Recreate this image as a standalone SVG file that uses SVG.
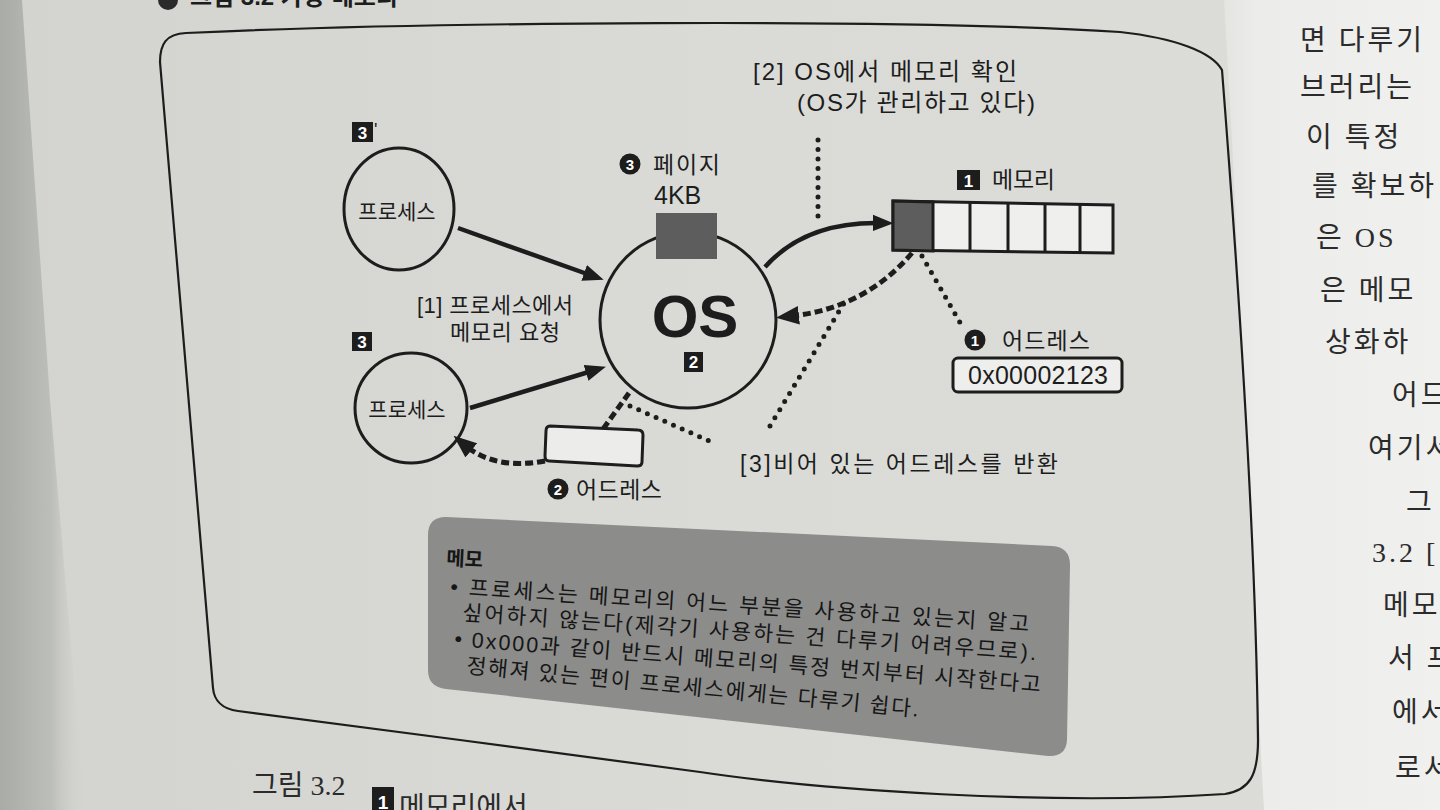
<svg xmlns="http://www.w3.org/2000/svg" width="1440" height="810" viewBox="0 0 1440 810">
<defs>
<style>
.ln{fill:none;stroke:#1d1d1d;stroke-width:3}
.arr{fill:none;stroke:#1d1d1d;stroke-width:4.5;marker-end:url(#ah)}
.dash{fill:none;stroke:#1d1d1d;stroke-width:5;stroke-dasharray:8 4;marker-end:url(#ah)}
.dashn{fill:none;stroke:#1d1d1d;stroke-width:5;stroke-dasharray:8 4}
.dot{fill:none;stroke:#1d1d1d;stroke-width:5;stroke-linecap:round;stroke-dasharray:0 9.5}
.t{font-family:"Liberation Sans","Noto Sans CJK KR",sans-serif;fill:#1d1d1d}
.wt{font-family:"Liberation Sans",sans-serif;fill:#ffffff;font-weight:bold;text-anchor:middle}
.mt{font-family:"Liberation Sans","Noto Sans CJK KR",sans-serif;fill:#161616;font-size:21.5px}
.pg{font-family:"Liberation Serif","Noto Sans CJK KR",serif;fill:#2b2b2b}
.rp{font-size:28px;letter-spacing:3px}
</style>
<marker id="ah" viewBox="0 0 10 8" refX="3" refY="4" markerWidth="4.6" markerHeight="3.8" orient="auto" markerUnits="strokeWidth">
<path d="M0,0 L10,4 L0,8 z" fill="#1d1d1d"/>
</marker>
<linearGradient id="bg" x1="0" y1="0" x2="1" y2="0">
<stop offset="0" stop-color="#d3d4d0"/>
<stop offset="0.5" stop-color="#dadbd7"/>
<stop offset="1" stop-color="#dcdcd9"/>
</linearGradient>
<linearGradient id="sh" x1="0" y1="0" x2="1" y2="0">
<stop offset="0" stop-color="#a9aba7"/>
<stop offset="0.6" stop-color="#bcbeba"/>
<stop offset="1" stop-color="#d3d4d0" stop-opacity="0"/>
</linearGradient>
<linearGradient id="rp" x1="0" y1="0" x2="1" y2="0">
<stop offset="0" stop-color="#e4e4e1"/>
<stop offset="0.15" stop-color="#ececea"/>
<stop offset="1" stop-color="#f0f0ee"/>
</linearGradient>
</defs>

<!-- page background -->
<rect width="1440" height="810" fill="url(#bg)"/>
<polygon points="0,0 22,0 50,400 85,810 0,810" fill="url(#sh)"/>
<polygon points="1224,0 1440,0 1440,810 1264,810 1258,700 1232,140" fill="url(#rp)"/>

<!-- top header (cut off) -->
<circle cx="168" cy="0" r="10" fill="#2a2a2a"/>
<text x="190" y="5" class="t" style="font-size:24px;font-weight:bold">그림 3.2 가상 메모리</text>

<!-- frame -->
<path class="ln" style="stroke-width:2.2" d="M160,62 C160,44 166,34 186,33 C420,22 900,18 1120,32 C1175,38 1212,52 1222,70 C1240,300 1256,560 1258,740 C1258,775 1250,790 1225,794 C1050,806 820,790 700,772 L460,740 L238,711 C222,709 214,700 213,688 Z"/>

<!-- connectors -->
<g id="connectors">
<path class="arr" d="M458,228 L590,275"/>
<path class="arr" d="M470,408 L592,371"/>
<path class="arr" d="M765,267 Q805,222 879,223"/>
<path class="dash" d="M912,253 Q865,308 792,316"/>
<path class="dash" d="M545,461 Q495,470 466,446"/>
<path class="dashn" d="M629,393 L603,429"/>
<path class="dot" d="M818,140 L818,224"/>
<path class="dot" d="M922,256 L962,326"/>
<path class="dot" d="M770,426 L847,298"/>
<path class="dot" d="M630,406 L714,443"/>
</g>

<!-- process 3' -->
<g id="process-top">
<rect x="352" y="122" width="21" height="20" fill="#1d1d1d"/>
<text x="362.5" y="139" class="wt" style="font-size:17px">3</text>
<text x="374" y="136" class="t" style="font-size:18px">'</text>
<ellipse cx="399" cy="209" rx="55" ry="61" class="ln"/>
<text x="397" y="219" class="t" style="font-size:21px" text-anchor="middle">프로세스</text>
</g>

<!-- process 3 -->
<g id="process-bottom">
<rect x="352" y="332" width="20" height="19" fill="#1d1d1d"/>
<text x="362" y="348" class="wt" style="font-size:17px">3</text>
<ellipse cx="411" cy="408" rx="56" ry="55" class="ln"/>
<text x="407" y="417" class="t" style="font-size:21px" text-anchor="middle">프로세스</text>
</g>

<!-- request label -->
<g id="label-request">
<text x="417" y="313" class="t" style="font-size:22px" textLength="156">[1] 프로세스에서</text>
<text x="450" y="340" class="t" style="font-size:22px" textLength="110">메모리 요청</text>
</g>

<!-- OS -->
<g id="os">
<circle cx="688" cy="320" r="88" class="ln"/>
<rect x="656" y="213" width="61" height="46" fill="#5d5d5d"/>
<text x="695" y="337" class="t" style="font-size:60px;font-weight:bold" text-anchor="middle">OS</text>
<rect x="684" y="352" width="19" height="20" fill="#1d1d1d"/>
<text x="693.5" y="368" class="wt" style="font-size:17px">2</text>
</g>

<!-- page -->
<g id="page-label">
<circle cx="630" cy="164" r="10.5" fill="#1d1d1d"/>
<text x="630" y="169.5" class="wt" style="font-size:15px">3</text>
<text x="653" y="173" class="t" style="font-size:23px" textLength="67">페이지</text>
<text x="654" y="204" class="t" style="font-size:25px">4KB</text>
</g>

<!-- check label -->
<g id="label-check">
<text x="753" y="80" class="t" style="font-size:24px" textLength="264">[2] OS에서 메모리 확인</text>
<text x="797" y="111" class="t" style="font-size:24px" textLength="238">(OS가 관리하고 있다)</text>
</g>

<!-- memory -->
<g id="memory">
<rect x="957" y="170" width="23" height="20" fill="#1d1d1d"/>
<text x="968.5" y="187" class="wt" style="font-size:17px">1</text>
<text x="992" y="188" class="t" style="font-size:23px" textLength="63">메모리</text>
<polygon points="893,201 1113,205 1113,253 893,250" fill="#efefed" stroke="#1d1d1d" stroke-width="3"/>
<polygon points="893,201 933,202 933,251 893,250" fill="#5d5d5d" stroke="#1d1d1d" stroke-width="3"/>
<path class="ln" d="M970,202.5 L970,251.5 M1008,203 L1008,252 M1045,204 L1045,252.5 M1080,204.5 L1080,253"/>
</g>

<!-- address 1 -->
<g id="address-1">
<circle cx="975" cy="340" r="10.5" fill="#1d1d1d"/>
<text x="975" y="345.5" class="wt" style="font-size:15px">1</text>
<text x="1002" y="349" class="t" style="font-size:23px" textLength="88">어드레스</text>
<rect x="953" y="358" width="169" height="34" rx="5" fill="#eeeeec" stroke="#1d1d1d" stroke-width="3"/>
<text x="968" y="384" class="t" style="font-size:25px" textLength="140">0x00002123</text>
</g>

<!-- address 2 -->
<g id="address-2">
<path d="M550,426 L638,430 Q643,430 643,435 L642,462 Q642,466 637,466 L549,461 Q545,461 545,456 L546,431 Q546,426 550,426 Z" fill="#ececea" stroke="#1d1d1d" stroke-width="3"/>
<circle cx="558" cy="489" r="10.5" fill="#1d1d1d"/>
<text x="558" y="494.5" class="wt" style="font-size:15px">2</text>
<text x="576" y="498" class="t" style="font-size:23px" textLength="86">어드레스</text>
</g>

<!-- return label -->
<g id="label-return">
<text x="740" y="472" class="t" style="font-size:23px" textLength="318">[3]비어 있는 어드레스를 반환</text>
</g>

<!-- memo -->
<g id="memo">
<path d="M428,535 Q428,517 446,517 L1052,546 Q1070,547 1070,565 L1067,740 Q1066,757 1048,756 L446,689 Q428,687 428,670 Z" fill="#8c8c8a"/>
<text x="446" y="565" class="mt" style="font-size:20px;font-weight:bold" transform="rotate(3 446 565)">메모</text>
<text x="450" y="594" class="mt" textLength="580" transform="rotate(3.7 450 594)">• 프로세스는 메모리의 어느 부분을 사용하고 있는지 알고</text>
<text x="462" y="620" class="mt" textLength="575" transform="rotate(4 462 620)">싶어하지 않는다(제각기 사용하는 건 다루기 어려우므로).</text>
<text x="454" y="646" class="mt" textLength="588" transform="rotate(4.5 454 646)">• 0x000과 같이 반드시 메모리의 특정 번지부터 시작한다고</text>
<text x="466" y="673" class="mt" textLength="454" transform="rotate(5.5 466 673)">정해져 있는 편이 프로세스에게는 다루기 쉽다.</text>
</g>

<!-- caption (cut off) -->
<g id="caption">
<text x="252" y="795" class="pg" style="font-size:28px">그림 3.2</text>
<rect x="372" y="787" width="22" height="26" fill="#1d1d1d"/>
<text x="383" y="809" class="wt" style="font-size:19px">1</text>
<text x="399" y="817" class="pg" style="font-size:28px">메모리에서</text>
</g>

<!-- right page text (cut off) -->
<g id="right-page">
<text x="1300" y="50" class="pg rp">면 다루기</text>
<text x="1300" y="97" class="pg rp">브러리는</text>
<text x="1306" y="147" class="pg rp">이 특정</text>
<text x="1312" y="196" class="pg rp">를 확보하</text>
<text x="1316" y="247" class="pg rp">은 OS</text>
<text x="1320" y="300" class="pg rp">은 메모</text>
<text x="1325" y="352" class="pg rp">상화하</text>
<text x="1392" y="405" class="pg rp">어드</text>
<text x="1368" y="458" class="pg rp">여기서</text>
<text x="1406" y="512" class="pg rp">그</text>
<text x="1372" y="562" class="pg rp">3.2 [</text>
<text x="1383" y="615" class="pg rp">메모</text>
<text x="1388" y="668" class="pg rp">서 프</text>
<text x="1392" y="722" class="pg rp">에서</text>
<text x="1395" y="778" class="pg rp">로서</text>
</g>
</svg>
